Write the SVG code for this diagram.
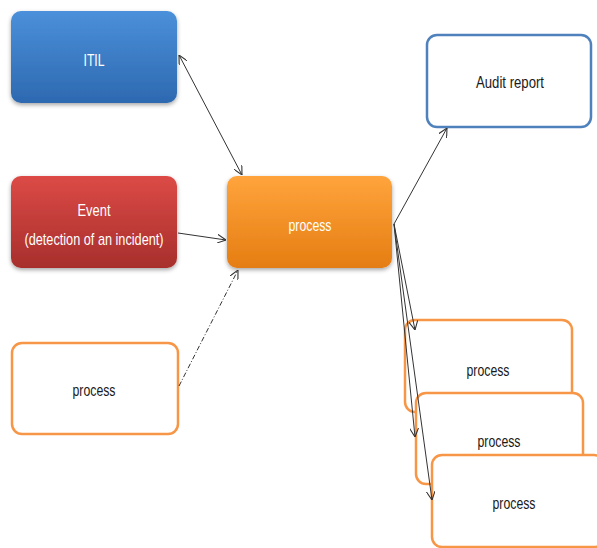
<svg xmlns="http://www.w3.org/2000/svg" width="597" height="548" viewBox="0 0 597 548">
<style>
.lbl{font-family:"Liberation Sans",Arial,sans-serif;font-size:17px;text-anchor:middle;dominant-baseline:central}
.w{fill:#ffffff}
.d{fill:#1a1a1a}
.ob{fill:#ffffff;stroke:#f79646;stroke-width:2.5}
.c{stroke:#333333;stroke-width:1;fill:none}
</style>
<defs>
<linearGradient id="gb" x1="0" y1="0" x2="0" y2="1"><stop offset="0" stop-color="#4b90da"/><stop offset="1" stop-color="#2d69b0"/></linearGradient>
<linearGradient id="gr" x1="0" y1="0" x2="0" y2="1"><stop offset="0" stop-color="#dc4a46"/><stop offset="1" stop-color="#a72f2c"/></linearGradient>
<linearGradient id="go" x1="0" y1="0" x2="0" y2="1"><stop offset="0" stop-color="#ffa43c"/><stop offset="1" stop-color="#e57d12"/></linearGradient>
<filter id="sh" x="-10%" y="-10%" width="120%" height="130%"><feDropShadow dx="0" dy="2" stdDeviation="2" flood-color="#000" flood-opacity="0.35"/></filter>
<marker id="ah" viewBox="0 0 10 10" refX="10" refY="5" markerWidth="9" markerHeight="9" orient="auto-start-reverse" markerUnits="userSpaceOnUse"><path d="M0,0 L10,5 L0,10" fill="none" stroke="#333" stroke-width="1.2"/></marker>
</defs>
<g id="itil"><rect x="11" y="11" width="166" height="92" rx="10" fill="url(#gb)" filter="url(#sh)"/><text class="lbl w" x="94" y="60" textLength="21" lengthAdjust="spacingAndGlyphs">ITIL</text></g>
<g id="event"><rect x="11" y="176" width="166" height="92" rx="10" fill="url(#gr)" filter="url(#sh)"/><text class="lbl w" x="94" y="210" textLength="33" lengthAdjust="spacingAndGlyphs">Event</text><text class="lbl w" x="94" y="239" textLength="139" lengthAdjust="spacingAndGlyphs">(detection of an incident)</text></g>
<g id="process-main"><rect x="227" y="176" width="165" height="92" rx="10" fill="url(#go)" filter="url(#sh)"/><text class="lbl w" x="310" y="225" textLength="43" lengthAdjust="spacingAndGlyphs">process</text></g>
<g id="process-left"><rect x="12" y="343" width="166" height="91" rx="10" class="ob"/><text class="lbl d" x="94" y="390" textLength="43" lengthAdjust="spacingAndGlyphs">process</text></g>
<g id="audit"><rect x="427" y="35" width="164" height="92" rx="10" fill="#fff" stroke="#4f81bd" stroke-width="2.5"/><text class="lbl d" x="510" y="82" textLength="68" lengthAdjust="spacingAndGlyphs">Audit report</text></g>
<g id="process-1"><rect x="405" y="320" width="167" height="92" rx="10" class="ob"/><text class="lbl d" x="488" y="370" textLength="43" lengthAdjust="spacingAndGlyphs">process</text></g>
<g id="process-2"><rect x="416" y="393" width="167" height="91" rx="10" class="ob"/><text class="lbl d" x="499" y="441" textLength="43" lengthAdjust="spacingAndGlyphs">process</text></g>
<g id="process-3"><rect x="432" y="455" width="172" height="92" rx="10" class="ob"/><text class="lbl d" x="514" y="503" textLength="43" lengthAdjust="spacingAndGlyphs">process</text></g>
<g id="connectors">
<line class="c" x1="179" y1="55" x2="242" y2="175" marker-start="url(#ah)" marker-end="url(#ah)"/>
<line class="c" x1="178" y1="233" x2="226" y2="240" marker-end="url(#ah)"/>
<line class="c" x1="179" y1="386" x2="238" y2="270" stroke-dasharray="5,2,1,2" marker-end="url(#ah)"/>
<line class="c" x1="394" y1="224" x2="447" y2="128" marker-end="url(#ah)"/>
<line class="c" x1="394" y1="224" x2="415" y2="330" marker-end="url(#ah)"/>
<line class="c" x1="394" y1="224" x2="415" y2="437" marker-end="url(#ah)"/>
<line class="c" x1="394" y1="224" x2="432" y2="500" marker-end="url(#ah)"/>
</g>
</svg>
